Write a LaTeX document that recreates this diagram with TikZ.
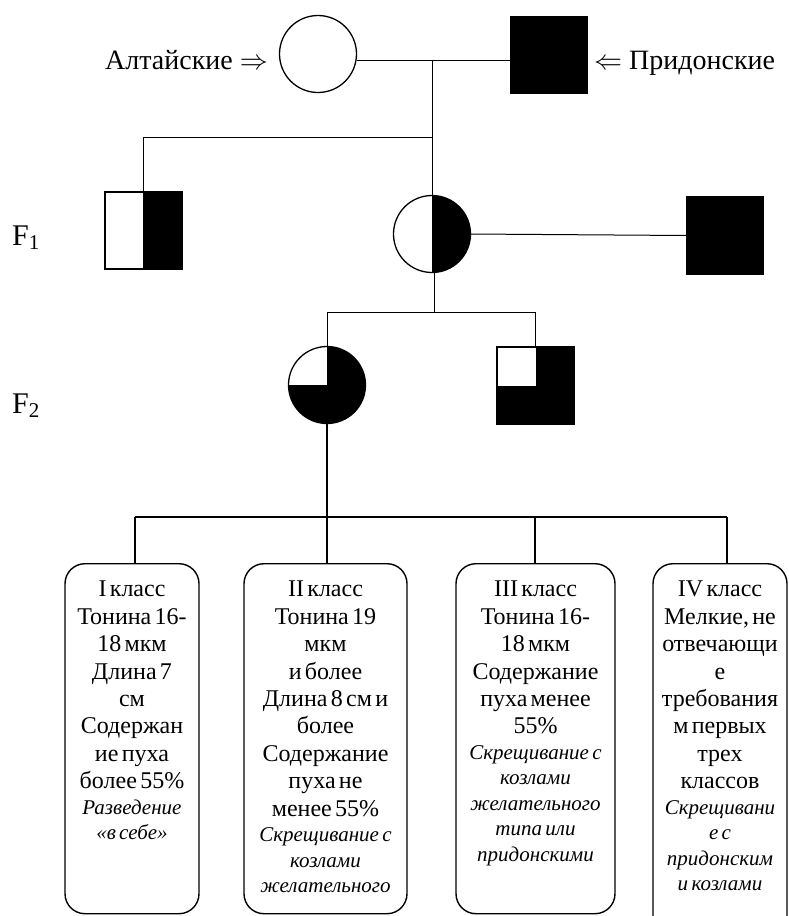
\RequirePackage{fix-cm}
\documentclass[tikz,border=0pt]{standalone}
\usepackage{fontspec}
\setmainfont{Liberation Serif}
\usetikzlibrary{calc}
\begin{document}
\begin{tikzpicture}[x=1pt,y=-1pt,
  conn/.style={line width=1pt},
  sym/.style={draw, line width=1.3pt, inner sep=0pt, outer sep=0pt},
  circ/.style={sym, circle, minimum size=77pt},
  sq/.style={sym, rectangle, minimum width=77pt, minimum height=77pt},
  halfright/.style={path picture={\fill (path picture bounding box.north) rectangle (path picture bounding box.south east);
     \draw[line width=1pt] (path picture bounding box.north) -- (path picture bounding box.south);}},
  threeq/.style={path picture={\fill (path picture bounding box.north) rectangle (path picture bounding box.south east);
     \fill (path picture bounding box.west) rectangle (path picture bounding box.south);}},
  cbox/.style={draw, line width=1.4pt, rounded corners=20pt, inner sep=0pt, anchor=north},
  lbl/.style={font=\fontsize{28}{32}\selectfont, inner sep=0pt},
  flbl/.style={font=\fontsize{30}{30}\selectfont, inner sep=0pt, anchor=base west},
  btxt/.style={anchor=north, inner sep=0pt, align=center, text width=170pt},
]
\newcommand{\uptxt}{\fontsize{24}{27.4}\selectfont}
\newcommand{\ittxt}{\fontsize{21}{25.5}\selectfont\itshape}
\useasboundingbox (0,0) rectangle (788,916);

% parents
\node[lbl, anchor=base east] (alt) at (268,69) {Алтайские $\Rightarrow$};
\node[lbl, anchor=base west] (prid) at (594,69) {$\Leftarrow$ Придонские};
\node[circ] (P1) at (318,54) {};
\node[sq, fill=black] (P2) at (549,55) {};

% F1
\node[flbl] (f1) at (12,245) {F\textsubscript{1}};
\node[sq, halfright] (F1m) at (143.5,230.5) {};
\node[circ, halfright] (F1f) at (432,234) {};
\node[sq, fill=black] (F1r) at (725,235.5) {};

% F2
\node[flbl] (f2) at (12,413) {F\textsubscript{2}};
\node[circ, threeq] (F2f) at (327,385) {};
\node[sq, threeq] (F2m) at (535.5,385.5) {};

% boxes
\node[cbox, minimum width=134pt, minimum height=350pt] (b1) at (132,563) {};
\node[cbox, minimum width=163pt, minimum height=350pt] (b2) at (325.5,563) {};
\node[cbox, minimum width=159pt, minimum height=350pt] (b3) at (535.5,563) {};
\node[cbox, minimum width=134pt, minimum height=372pt] (b4) at (720,563) {};

\node[btxt] (t1) at (b1.north |- 0,581) {\uptxt I класс\\Тонина 16-\\18 мкм\\Длина 7\\см\\Содержан\\ие пуха\\более 55\%\par
  \ittxt Разведение\\«в себе»\par};
\node[btxt] (t2) at (b2.north |- 0,581) {\uptxt II класс\\Тонина 19\\мкм\\и более\\Длина 8 см и\\более\\Содержание\\пуха не\\менее 55\%\par
  \ittxt Скрещивание с\\козлами\\желательного\par};
\node[btxt] (t3) at (b3.north |- 0,581) {\uptxt III класс\\Тонина 16-\\18 мкм\\Содержание\\пуха менее\\55\%\par
  \ittxt Скрещивание с\\козлами\\желательного\\типа или\\придонскими\par};
\node[btxt] (t4) at (b4.north |- 0,581) {\uptxt IV класс\\Мелкие, не\\отвечающи\\е\\требования\\м первых\\трех\\классов\par
  \ittxt Скрещивани\\е с\\придонским\\и козлами\par};

% connectors
\coordinate (j1) at (432,60);
\coordinate (j2) at (432,137);
\coordinate (j3) at (434,312);
\coordinate (j4) at (327,517);
\coordinate (k1) at (135,517);
\coordinate (k2) at (327,517);
\coordinate (k3) at (535,517);
\coordinate (k4) at (727,517);

\draw[conn] (P1.east |- j1) -- (P2.west |- j1);
\draw[conn] (j1) -- (F1f.north);
\draw[conn] (j2) -- (F1m.north |- j2) -- (F1m.north);
\draw[conn] (F1f.east) -- (F1r.west);
\draw[conn] (F1f.south -| j3) -- (j3);
\draw[conn] (F2f.north) -- (F2f.north |- j3) -- (F2m.north |- j3) -- (F2m.north);
\draw[conn, line width=1.3pt] (F2f.south) -- (j4);
\draw[conn, line width=1.3pt] (k1) -- (k4);
\draw[conn, line width=1.3pt] (k1) -- (k1 |- b1.north);
\draw[conn, line width=1.3pt] (k2) -- (k2 |- b2.north);
\draw[conn, line width=1.3pt] (k3) -- (k3 |- b3.north);
\draw[conn, line width=1.3pt] (k4) -- (k4 |- b4.north);
\end{tikzpicture}
\end{document}
